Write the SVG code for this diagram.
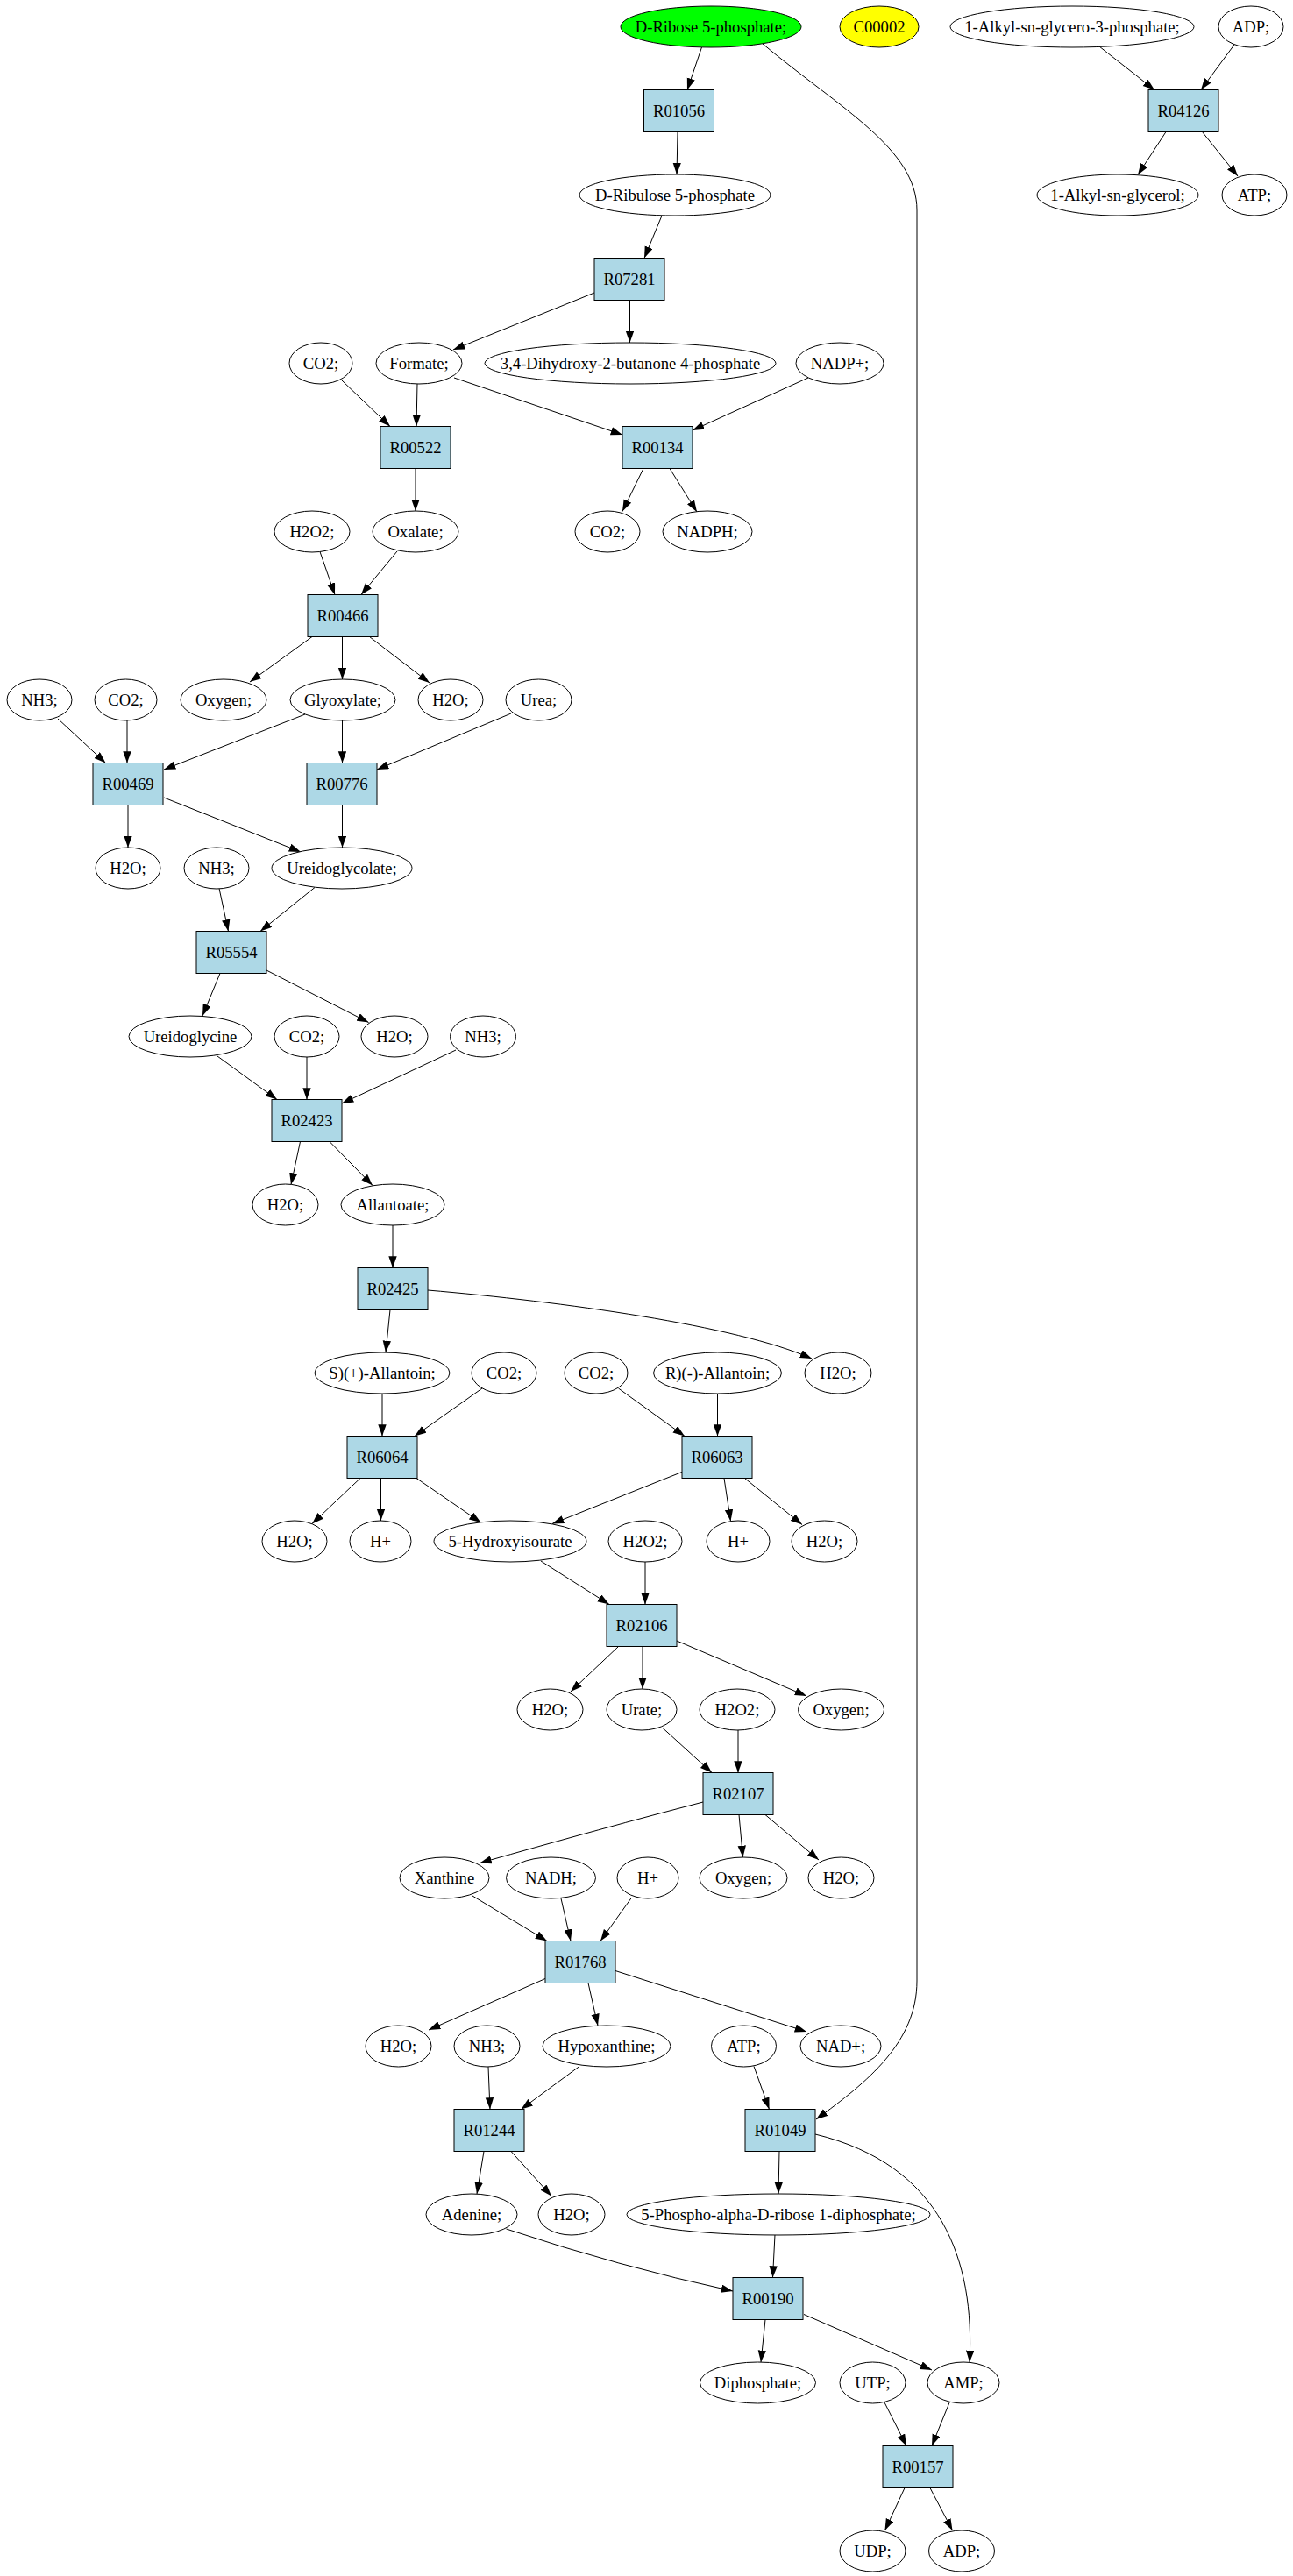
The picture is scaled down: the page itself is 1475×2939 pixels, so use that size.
<svg xmlns="http://www.w3.org/2000/svg" width="1475" height="2939" viewBox="0 0 1475 2939">
<style>
.e{fill:#fff;stroke:#000;stroke-width:1}
.b{fill:#add8e6;stroke:#000;stroke-width:1}
text{font-family:"Liberation Serif","Times New Roman",serif;font-size:18.67px;text-anchor:middle;fill:#000}
#edges path{fill:none;stroke:#000;stroke-width:1;marker-end:url(#a)}
</style>
<defs>
<marker id="a" markerWidth="14" markerHeight="10" refX="13.3" refY="4.7" orient="auto" markerUnits="userSpaceOnUse"><path d="M0,0 L13.3,4.7 L0,9.4 z" fill="#000"/></marker>
</defs>
<rect width="1475" height="2939" fill="#fff"/>
<g id="edges">
<path d="M800.5,54 L784,102.5"/>
<path d="M870,50 C960,125 1046,170 1046,240 L1046,2260 C1046,2330 990,2375 931,2418"/>
<path d="M773,150.5 L772,199"/>
<path d="M755,246 L735,294.5"/>
<path d="M678,334 L517,399"/>
<path d="M718.5,342.5 L718.5,391"/>
<path d="M1254,53 L1317,102.5"/>
<path d="M1408,51 L1370,102.5"/>
<path d="M1330,150.5 L1298,199.5"/>
<path d="M1371.5,150.5 L1412,201"/>
<path d="M390,434 L445,486.5"/>
<path d="M476,438 L475,486.5"/>
<path d="M518,431 L710,496"/>
<path d="M922,431 L790,491"/>
<path d="M474,534.5 L474,583"/>
<path d="M734,534.5 L710,583.5"/>
<path d="M764,534.5 L795,584"/>
<path d="M365,629.5 L382,678.5"/>
<path d="M453,629 L412,678.5"/>
<path d="M356,726.5 L285,778"/>
<path d="M390.5,726.5 L390.5,775"/>
<path d="M421.5,726.5 L490,779"/>
<path d="M66,820 L120.5,870.5"/>
<path d="M145,822 L145,870.5"/>
<path d="M348,815 L187,878"/>
<path d="M390.5,822 L390.5,870.5"/>
<path d="M583,814 L430,878"/>
<path d="M146,918.5 L146,967"/>
<path d="M187,910 L343,972"/>
<path d="M390.5,918.5 L390.5,967"/>
<path d="M250,1013.5 L260.5,1062.5"/>
<path d="M359,1012.5 L297,1062.5"/>
<path d="M251,1110.5 L231,1159"/>
<path d="M304,1107 L420.5,1166.5"/>
<path d="M248,1205 L316,1254.5"/>
<path d="M350,1206 L350,1254.5"/>
<path d="M520,1198 L390,1259"/>
<path d="M342.5,1302.5 L332,1351.5"/>
<path d="M376,1302.5 L425,1352.5"/>
<path d="M448,1398 L448,1446.5"/>
<path d="M445,1494.5 L440,1543"/>
<path d="M488,1472 C640,1485 840,1512 926,1550"/>
<path d="M436,1590 L436,1638.5"/>
<path d="M550,1584 L473,1638.5"/>
<path d="M705.5,1584 L781,1638.5"/>
<path d="M818.5,1590 L818.5,1638.5"/>
<path d="M411,1686.5 L356,1738.5"/>
<path d="M434.5,1686.5 L434.5,1735"/>
<path d="M475,1686.5 L548.5,1737"/>
<path d="M779,1679 L630,1738.5"/>
<path d="M826,1686.5 L833.5,1735.5"/>
<path d="M849.5,1686.5 L915,1739.5"/>
<path d="M617,1781 L695,1830.5"/>
<path d="M736,1782 L736,1830.5"/>
<path d="M705.5,1878.5 L651,1930"/>
<path d="M733,1878.5 L733,1927"/>
<path d="M772,1872 L920,1935"/>
<path d="M756,1971.5 L812,2022.5"/>
<path d="M842,1974 L842,2022.5"/>
<path d="M802,2056 Q690,2085 547.5,2125.5"/>
<path d="M843,2070.5 L847.5,2119"/>
<path d="M873,2070.5 L934,2122"/>
<path d="M539,2163 L624,2214.5"/>
<path d="M640,2166 L651,2214.5"/>
<path d="M720.5,2165 L685,2214.5"/>
<path d="M622,2257.5 L489,2316"/>
<path d="M671,2262.5 L682,2311"/>
<path d="M702,2248.5 L920,2318"/>
<path d="M557,2358 L559,2406.5"/>
<path d="M661,2357.5 L594.5,2406.5"/>
<path d="M860,2357.5 L877.5,2406.5"/>
<path d="M552,2454.5 L544,2503"/>
<path d="M583,2454.5 L629,2505.5"/>
<path d="M889,2454.5 L888,2503"/>
<path d="M930,2435 C1075,2470 1112,2580 1106,2695"/>
<path d="M577.5,2543 Q705,2585.5 836,2614"/>
<path d="M884,2549.5 L881.5,2598.5"/>
<path d="M873,2646.5 L868,2695"/>
<path d="M917,2640.5 L1063,2704"/>
<path d="M1008.5,2740 L1034,2790.5"/>
<path d="M1083.5,2740 L1063,2790.5"/>
<path d="M1032,2838.5 L1009.5,2887"/>
<path d="M1061,2838.5 L1086.5,2887"/>
</g>
<g id="n_ribose5p"><ellipse cx="811" cy="30.5" rx="103" ry="23.5" fill="#00ff00" stroke="#000"/><text x="811" y="36.5">D-Ribose 5-phosphate;</text></g>
<g id="n_C00002"><ellipse cx="1003" cy="30.5" rx="45" ry="23.5" fill="#ffff00" stroke="#000"/><text x="1003" y="36.5">C00002</text></g>
<g id="n_alkylglycero3p"><ellipse class="e" cx="1223" cy="30.5" rx="139" ry="23.5"/><text x="1223" y="36.5">1-Alkyl-sn-glycero-3-phosphate;</text></g>
<g id="n_ADP_1"><ellipse class="e" cx="1427" cy="30.5" rx="37" ry="23.5"/><text x="1427" y="36.5">ADP;</text></g>
<g id="r_R01056"><rect class="b" x="734.5" y="102.5" width="80" height="48"/><text x="774.5" y="132.5">R01056</text></g>
<g id="r_R04126"><rect class="b" x="1310" y="102.5" width="80" height="48"/><text x="1350" y="132.5">R04126</text></g>
<g id="n_ribulose5p"><ellipse class="e" cx="770" cy="222.5" rx="109" ry="23.5"/><text x="770" y="228.5">D-Ribulose 5-phosphate</text></g>
<g id="n_alkylglycerol"><ellipse class="e" cx="1275" cy="222.5" rx="92" ry="23.5"/><text x="1275" y="228.5">1-Alkyl-sn-glycerol;</text></g>
<g id="n_ATP_1"><ellipse class="e" cx="1431" cy="222.5" rx="37" ry="23.5"/><text x="1431" y="228.5">ATP;</text></g>
<g id="r_R07281"><rect class="b" x="678" y="294.5" width="80" height="48"/><text x="718" y="324.5">R07281</text></g>
<g id="n_CO2_1"><ellipse class="e" cx="366" cy="414.5" rx="36" ry="23.5"/><text x="366" y="420.5">CO2;</text></g>
<g id="n_formate"><ellipse class="e" cx="478" cy="414.5" rx="49" ry="23.5"/><text x="478" y="420.5">Formate;</text></g>
<g id="n_dhbp"><ellipse class="e" cx="719" cy="414.5" rx="166" ry="23.5"/><text x="719" y="420.5">3,4-Dihydroxy-2-butanone 4-phosphate</text></g>
<g id="n_NADP"><ellipse class="e" cx="958" cy="414.5" rx="50" ry="23.5"/><text x="958" y="420.5">NADP+;</text></g>
<g id="r_R00522"><rect class="b" x="434" y="486.5" width="80" height="48"/><text x="474" y="516.5">R00522</text></g>
<g id="r_R00134"><rect class="b" x="710" y="486.5" width="80" height="48"/><text x="750" y="516.5">R00134</text></g>
<g id="n_H2O2_1"><ellipse class="e" cx="356" cy="606.5" rx="43" ry="23.5"/><text x="356" y="612.5">H2O2;</text></g>
<g id="n_oxalate"><ellipse class="e" cx="474" cy="606.5" rx="49" ry="23.5"/><text x="474" y="612.5">Oxalate;</text></g>
<g id="n_CO2_2"><ellipse class="e" cx="693" cy="606.5" rx="37" ry="23.5"/><text x="693" y="612.5">CO2;</text></g>
<g id="n_NADPH"><ellipse class="e" cx="807" cy="606.5" rx="51" ry="23.5"/><text x="807" y="612.5">NADPH;</text></g>
<g id="r_R00466"><rect class="b" x="351" y="678.5" width="80" height="48"/><text x="391" y="708.5">R00466</text></g>
<g id="n_NH3_1"><ellipse class="e" cx="45" cy="798.5" rx="37" ry="23.5"/><text x="45" y="804.5">NH3;</text></g>
<g id="n_CO2_3"><ellipse class="e" cx="143.5" cy="798.5" rx="35.5" ry="23.5"/><text x="143.5" y="804.5">CO2;</text></g>
<g id="n_oxygen_1"><ellipse class="e" cx="255" cy="798.5" rx="49" ry="23.5"/><text x="255" y="804.5">Oxygen;</text></g>
<g id="n_glyoxylate"><ellipse class="e" cx="391" cy="798.5" rx="60" ry="23.5"/><text x="391" y="804.5">Glyoxylate;</text></g>
<g id="n_H2O_1"><ellipse class="e" cx="514" cy="798.5" rx="37" ry="23.5"/><text x="514" y="804.5">H2O;</text></g>
<g id="n_urea"><ellipse class="e" cx="614.5" cy="798.5" rx="37.5" ry="23.5"/><text x="614.5" y="804.5">Urea;</text></g>
<g id="r_R00469"><rect class="b" x="106" y="870.5" width="80" height="48"/><text x="146" y="900.5">R00469</text></g>
<g id="r_R00776"><rect class="b" x="350" y="870.5" width="80" height="48"/><text x="390" y="900.5">R00776</text></g>
<g id="n_H2O_2"><ellipse class="e" cx="146" cy="990.5" rx="37" ry="23.5"/><text x="146" y="996.5">H2O;</text></g>
<g id="n_NH3_2"><ellipse class="e" cx="247" cy="990.5" rx="37" ry="23.5"/><text x="247" y="996.5">NH3;</text></g>
<g id="n_ureidoglycolate"><ellipse class="e" cx="390" cy="990.5" rx="80" ry="23.5"/><text x="390" y="996.5">Ureidoglycolate;</text></g>
<g id="r_R05554"><rect class="b" x="224" y="1062.5" width="80" height="48"/><text x="264" y="1092.5">R05554</text></g>
<g id="n_ureidoglycine"><ellipse class="e" cx="217" cy="1182.5" rx="70" ry="23.5"/><text x="217" y="1188.5">Ureidoglycine</text></g>
<g id="n_CO2_4"><ellipse class="e" cx="350" cy="1182.5" rx="37" ry="23.5"/><text x="350" y="1188.5">CO2;</text></g>
<g id="n_H2O_3"><ellipse class="e" cx="450" cy="1182.5" rx="38" ry="23.5"/><text x="450" y="1188.5">H2O;</text></g>
<g id="n_NH3_3"><ellipse class="e" cx="551" cy="1182.5" rx="37.5" ry="23.5"/><text x="551" y="1188.5">NH3;</text></g>
<g id="r_R02423"><rect class="b" x="310" y="1254.5" width="80" height="48"/><text x="350" y="1284.5">R02423</text></g>
<g id="n_H2O_4"><ellipse class="e" cx="325.5" cy="1374.5" rx="37.5" ry="23.5"/><text x="325.5" y="1380.5">H2O;</text></g>
<g id="n_allantoate"><ellipse class="e" cx="448" cy="1374.5" rx="59" ry="23.5"/><text x="448" y="1380.5">Allantoate;</text></g>
<g id="r_R02425"><rect class="b" x="408" y="1446.5" width="80" height="48"/><text x="448" y="1476.5">R02425</text></g>
<g id="n_s_allantoin"><ellipse class="e" cx="436" cy="1566.5" rx="77" ry="23.5"/><text x="436" y="1572.5">S)(+)-Allantoin;</text></g>
<g id="n_CO2_5"><ellipse class="e" cx="575" cy="1566.5" rx="37" ry="23.5"/><text x="575" y="1572.5">CO2;</text></g>
<g id="n_CO2_6"><ellipse class="e" cx="680" cy="1566.5" rx="36" ry="23.5"/><text x="680" y="1572.5">CO2;</text></g>
<g id="n_r_allantoin"><ellipse class="e" cx="818.5" cy="1566.5" rx="73" ry="23.5"/><text x="818.5" y="1572.5">R)(-)-Allantoin;</text></g>
<g id="n_H2O_5"><ellipse class="e" cx="956" cy="1566.5" rx="38" ry="23.5"/><text x="956" y="1572.5">H2O;</text></g>
<g id="r_R06064"><rect class="b" x="396" y="1638.5" width="80" height="48"/><text x="436" y="1668.5">R06064</text></g>
<g id="r_R06063"><rect class="b" x="778" y="1638.5" width="80" height="48"/><text x="818" y="1668.5">R06063</text></g>
<g id="n_H2O_6"><ellipse class="e" cx="336" cy="1758.5" rx="37" ry="23.5"/><text x="336" y="1764.5">H2O;</text></g>
<g id="n_Hplus_1"><ellipse class="e" cx="434" cy="1758.5" rx="35" ry="23.5"/><text x="434" y="1764.5">H+</text></g>
<g id="n_hiu"><ellipse class="e" cx="582" cy="1758.5" rx="87" ry="23.5"/><text x="582" y="1764.5">5-Hydroxyisourate</text></g>
<g id="n_H2O2_2"><ellipse class="e" cx="736" cy="1758.5" rx="42" ry="23.5"/><text x="736" y="1764.5">H2O2;</text></g>
<g id="n_Hplus_2"><ellipse class="e" cx="842" cy="1758.5" rx="36" ry="23.5"/><text x="842" y="1764.5">H+</text></g>
<g id="n_H2O_7"><ellipse class="e" cx="940.5" cy="1758.5" rx="37.5" ry="23.5"/><text x="940.5" y="1764.5">H2O;</text></g>
<g id="r_R02106"><rect class="b" x="692" y="1830.5" width="80" height="48"/><text x="732" y="1860.5">R02106</text></g>
<g id="n_H2O_8"><ellipse class="e" cx="627.5" cy="1950.5" rx="37.5" ry="23.5"/><text x="627.5" y="1956.5">H2O;</text></g>
<g id="n_urate"><ellipse class="e" cx="732" cy="1950.5" rx="40" ry="23.5"/><text x="732" y="1956.5">Urate;</text></g>
<g id="n_H2O2_3"><ellipse class="e" cx="841" cy="1950.5" rx="43" ry="23.5"/><text x="841" y="1956.5">H2O2;</text></g>
<g id="n_oxygen_2"><ellipse class="e" cx="959.5" cy="1950.5" rx="49" ry="23.5"/><text x="959.5" y="1956.5">Oxygen;</text></g>
<g id="r_R02107"><rect class="b" x="802" y="2022.5" width="80" height="48"/><text x="842" y="2052.5">R02107</text></g>
<g id="n_xanthine"><ellipse class="e" cx="507" cy="2142.5" rx="51" ry="23.5"/><text x="507" y="2148.5">Xanthine</text></g>
<g id="n_NADH"><ellipse class="e" cx="628.5" cy="2142.5" rx="51" ry="23.5"/><text x="628.5" y="2148.5">NADH;</text></g>
<g id="n_Hplus_3"><ellipse class="e" cx="739" cy="2142.5" rx="35" ry="23.5"/><text x="739" y="2148.5">H+</text></g>
<g id="n_oxygen_3"><ellipse class="e" cx="848" cy="2142.5" rx="50" ry="23.5"/><text x="848" y="2148.5">Oxygen;</text></g>
<g id="n_H2O_9"><ellipse class="e" cx="959.5" cy="2142.5" rx="37.5" ry="23.5"/><text x="959.5" y="2148.5">H2O;</text></g>
<g id="r_R01768"><rect class="b" x="622" y="2214.5" width="80" height="48"/><text x="662" y="2244.5">R01768</text></g>
<g id="n_H2O_10"><ellipse class="e" cx="454.5" cy="2334.5" rx="37.5" ry="23.5"/><text x="454.5" y="2340.5">H2O;</text></g>
<g id="n_NH3_4"><ellipse class="e" cx="555.5" cy="2334.5" rx="37.5" ry="23.5"/><text x="555.5" y="2340.5">NH3;</text></g>
<g id="n_hypoxanthine"><ellipse class="e" cx="692" cy="2334.5" rx="73" ry="23.5"/><text x="692" y="2340.5">Hypoxanthine;</text></g>
<g id="n_ATP_2"><ellipse class="e" cx="848.5" cy="2334.5" rx="37" ry="23.5"/><text x="848.5" y="2340.5">ATP;</text></g>
<g id="n_NAD"><ellipse class="e" cx="959" cy="2334.5" rx="46" ry="23.5"/><text x="959" y="2340.5">NAD+;</text></g>
<g id="r_R01244"><rect class="b" x="518" y="2406.5" width="80" height="48"/><text x="558" y="2436.5">R01244</text></g>
<g id="r_R01049"><rect class="b" x="850" y="2406.5" width="80" height="48"/><text x="890" y="2436.5">R01049</text></g>
<g id="n_adenine"><ellipse class="e" cx="538" cy="2526.5" rx="52" ry="23.5"/><text x="538" y="2532.5">Adenine;</text></g>
<g id="n_H2O_11"><ellipse class="e" cx="652" cy="2526.5" rx="38" ry="23.5"/><text x="652" y="2532.5">H2O;</text></g>
<g id="n_prpp"><ellipse class="e" cx="888" cy="2526.5" rx="173" ry="23.5"/><text x="888" y="2532.5">5-Phospho-alpha-D-ribose 1-diphosphate;</text></g>
<g id="r_R00190"><rect class="b" x="836" y="2598.5" width="80" height="48"/><text x="876" y="2628.5">R00190</text></g>
<g id="n_diphosphate"><ellipse class="e" cx="864.5" cy="2718.5" rx="66" ry="23.5"/><text x="864.5" y="2724.5">Diphosphate;</text></g>
<g id="n_UTP"><ellipse class="e" cx="995.5" cy="2718.5" rx="37.5" ry="23.5"/><text x="995.5" y="2724.5">UTP;</text></g>
<g id="n_AMP"><ellipse class="e" cx="1099" cy="2718.5" rx="41" ry="23.5"/><text x="1099" y="2724.5">AMP;</text></g>
<g id="r_R00157"><rect class="b" x="1007" y="2790.5" width="80" height="48"/><text x="1047" y="2820.5">R00157</text></g>
<g id="n_UDP"><ellipse class="e" cx="995.5" cy="2910.5" rx="37.5" ry="23.5"/><text x="995.5" y="2916.5">UDP;</text></g>
<g id="n_ADP_2"><ellipse class="e" cx="1097" cy="2910.5" rx="37.5" ry="23.5"/><text x="1097" y="2916.5">ADP;</text></g>
</svg>
